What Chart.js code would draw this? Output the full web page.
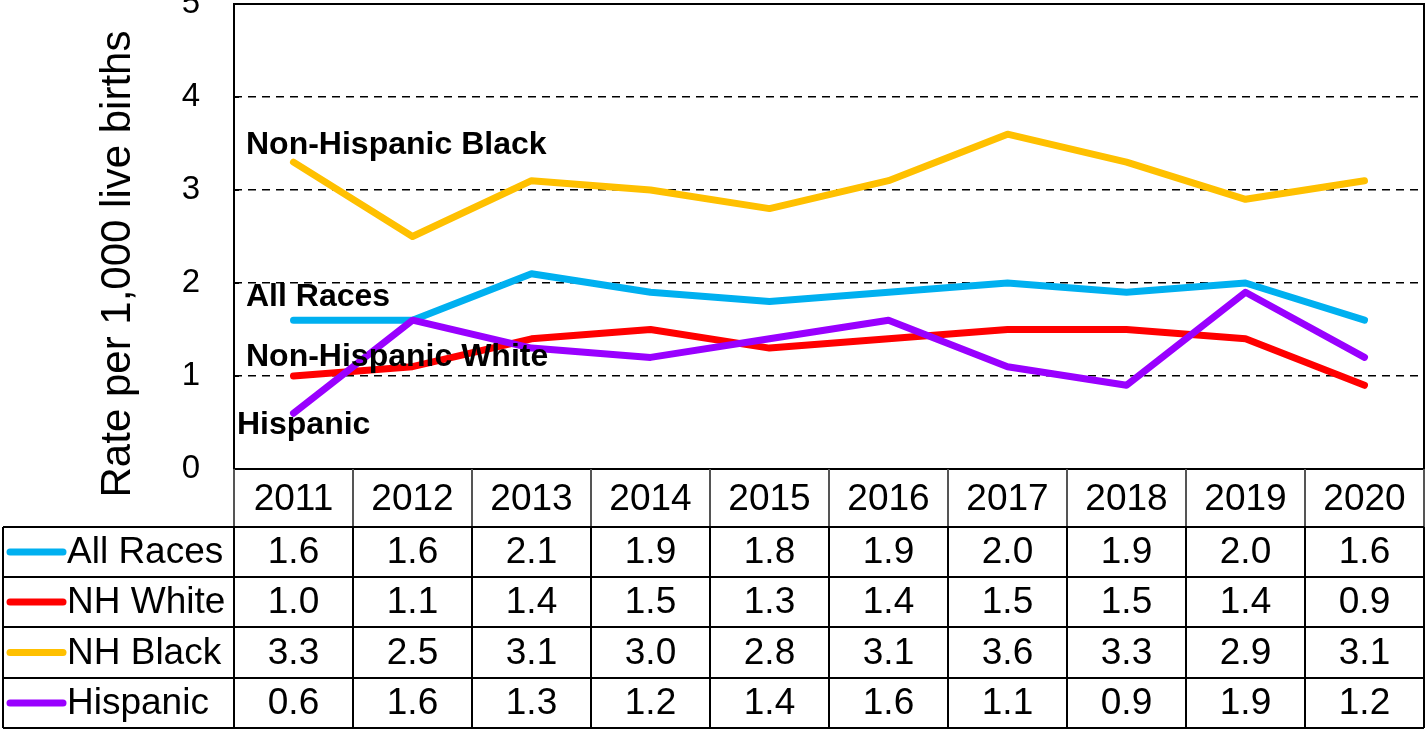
<!DOCTYPE html>
<html>
<head>
<meta charset="utf-8">
<script src="https://cdn.jsdelivr.net/npm/chart.js@4/dist/chart.umd.min.js"></script>
<style>
  html, body { margin: 0; padding: 0; background: #fff; }
  #wrap { width: 1426px; height: 730px; }
</style>
</head>
<body>
<div id="wrap"><canvas id="rateChart" width="1426" height="730"></canvas></div>
<script>
// Data
const years = ['2011', '2012', '2013', '2014', '2015', '2016', '2017', '2018', '2019', '2020'];
const allRaces = [1.6, 1.6, 2.1, 1.9, 1.8, 1.9, 2.0, 1.9, 2.0, 1.6];
const nhWhite = [1.0, 1.1, 1.4, 1.5, 1.3, 1.4, 1.5, 1.5, 1.4, 0.9];
const nhBlack = [3.3, 2.5, 3.1, 3.0, 2.8, 3.1, 3.6, 3.3, 2.9, 3.1];
const hispanic = [0.6, 1.6, 1.3, 1.2, 1.4, 1.6, 1.1, 0.9, 1.9, 1.2];
const tableNames = ['All Races', 'NH White', 'NH Black', 'Hispanic'];
const lineNames = ['All Races', 'Non-Hispanic White', 'Non-Hispanic Black', 'Hispanic'];
const yTicks = [0, 1, 2, 3, 4, 5];

const colors = ['#00B0F0', '#FF0000', '#FFC000', '#9900FF'];
const series = [allRaces, nhWhite, nhBlack, hispanic];

const FONT = '"Liberation Sans", Arial, sans-serif';

// Series name labels inside the plot (x, y in px)
const labelSpots = [
    { x: 246, y: 297 },
    { x: 246, y: 357 },
    { x: 246, y: 145 },
    { x: 237, y: 425 }
];

const tablePlugin = {
    id: 'tablePlugin',
    afterDatasetsDraw(chart) {
        const ctx = chart.ctx;

        // series names over the lines
        ctx.save();
        ctx.fillStyle = '#000';
        ctx.font = 'bold 32px ' + FONT;
        ctx.textBaseline = 'middle';
        ctx.textAlign = 'left';
        lineNames.forEach((name, i) => {
            ctx.fillText(name, labelSpots[i].x, labelSpots[i].y);
        });
        ctx.restore();
    },
    afterDraw(chart) {
        const ctx = chart.ctx;
        const area = chart.chartArea;
        const xs = chart.scales.x;
        const colW = (area.right - area.left) / years.length;

        // plot border
        ctx.save();
        ctx.strokeStyle = '#000';
        ctx.lineWidth = 2;
        ctx.strokeRect(area.left, area.top, area.right - area.left, area.bottom - area.top);

        // inward ticks on y axis
        const ys = chart.scales.y;
        yTicks.forEach(v => {
            const py = ys.getPixelForValue(v);
            ctx.beginPath();
            ctx.moveTo(area.left, py);
            ctx.lineTo(area.left + 5, py);
            ctx.stroke();
        });

        // axis title
        ctx.save();
        ctx.translate(130, 264);
        ctx.rotate(-Math.PI / 2);
        ctx.fillStyle = '#000';
        ctx.font = '42px ' + FONT;
        ctx.textAlign = 'center';
        ctx.textBaseline = 'alphabetic';
        ctx.fillText('Rate per 1,000 live births', 0, 0);
        ctx.restore();

        // table geometry
        const headTop = area.bottom;
        const rowTops = [527, 577, 627, 678];
        const tableBottom = 728;
        const leftEdge = 3;

        // header row (years)
        ctx.strokeStyle = '#555';
        ctx.lineWidth = 2;
        for (let i = 0; i <= years.length; i++) {
            const x = area.left + i * colW;
            ctx.beginPath();
            ctx.moveTo(x, headTop);
            ctx.lineTo(x, rowTops[0]);
            ctx.stroke();
        }
        ctx.strokeStyle = '#000';
        // horizontal row lines
        ctx.beginPath();
        for (let r = 0; r < rowTops.length; r++) {
            ctx.moveTo(leftEdge, rowTops[r]);
            ctx.lineTo(area.right, rowTops[r]);
        }
        ctx.moveTo(leftEdge, tableBottom);
        ctx.lineTo(area.right, tableBottom);
        ctx.stroke();
        // vertical lines in data rows
        ctx.beginPath();
        ctx.moveTo(leftEdge, rowTops[0]);
        ctx.lineTo(leftEdge, tableBottom);
        for (let i = 0; i <= years.length; i++) {
            const x = area.left + i * colW;
            ctx.moveTo(x, rowTops[0]);
            ctx.lineTo(x, tableBottom);
        }
        ctx.stroke();

        // text
        ctx.fillStyle = '#000';
        ctx.font = '37px ' + FONT;
        ctx.textBaseline = 'middle';
        ctx.textAlign = 'center';
        years.forEach((yr, i) => {
            ctx.fillText(yr, xs.getPixelForValue(i), (headTop + rowTops[0]) / 2 + 2);
        });
        const rowBottoms = rowTops.slice(1).concat([tableBottom]);
        series.forEach((vals, r) => {
            const cy = (rowTops[r] + rowBottoms[r]) / 2 + 1;
            ctx.textAlign = 'center';
            vals.forEach((v, i) => {
                ctx.fillText(v.toFixed(1), xs.getPixelForValue(i), cy);
            });
            // legend swatch + name
            ctx.save();
            ctx.strokeStyle = colors[r];
            ctx.lineWidth = 7;
            ctx.lineCap = 'round';
            ctx.beginPath();
            ctx.moveTo(10, cy - 1);
            ctx.lineTo(63, cy - 1);
            ctx.stroke();
            ctx.restore();
            ctx.textAlign = 'left';
            ctx.fillText(tableNames[r], 67, cy);
        });
        ctx.restore();
    }
};

const ctx = document.getElementById('rateChart').getContext('2d');

new Chart(ctx, {
    type: 'line',
    data: {
        labels: years,
        datasets: series.map((vals, i) => ({
            label: tableNames[i],
            data: vals,
            borderColor: colors[i],
            backgroundColor: colors[i],
            borderWidth: 7,
            borderCapStyle: 'round',
            borderJoinStyle: 'round',
            pointRadius: 0,
            tension: 0,
            order: i === 3 ? 0 : 4 - i
        }))
    },
    options: {
        responsive: false,
        animation: false,
        events: [],
        layout: { padding: { left: 0, top: 4, right: 2, bottom: 261 } },
        plugins: {
            legend: { display: false },
            tooltip: { enabled: false },
            title: { display: false }
        },
        scales: {
            x: {
                display: false,
                offset: true
            },
            y: {
                min: 0,
                max: 5,
                afterFit(scale) {
                    scale.width = 234;
                    scale.paddingTop = 0;
                    scale.paddingBottom = 0;
                },
                afterBuildTicks(scale) {
                    scale.ticks = yTicks.map(v => ({ value: v }));
                },
                border: { display: false, dash: [8, 6] },
                grid: {
                    color: '#000',
                    lineWidth: 1.5,
                    drawTicks: false
                },
                ticks: {
                    padding: 34,
                    color: '#000',
                    font: { family: FONT, size: 33 }
                }
            }
        }
    },
    plugins: [tablePlugin]
});
</script>
</body>
</html>
